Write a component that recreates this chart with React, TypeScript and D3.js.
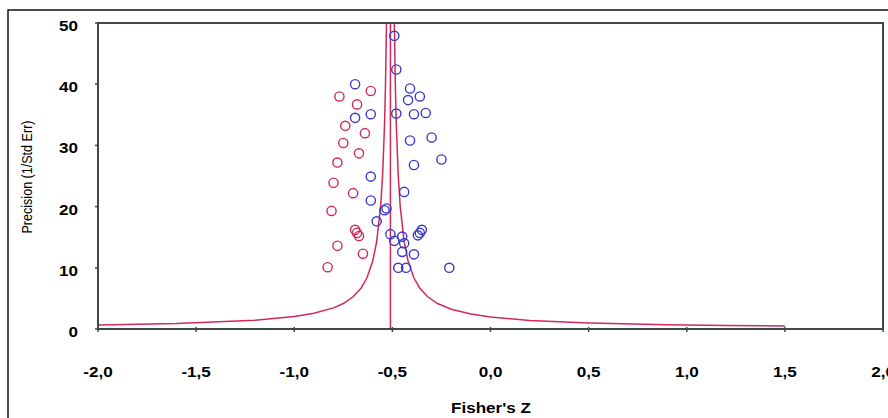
import React from 'react';
import * as d3 from 'd3';

// 观测研究 (蓝) — Fisher's Z, precision
const observedZ = [-0.49, -0.48, -0.69, -0.41, -0.42, -0.36, -0.61, -0.69, -0.48, -0.39, -0.33, -0.41, -0.30, -0.39, -0.25, -0.61, -0.44, -0.61, -0.54, -0.53, -0.58, -0.51, -0.49, -0.45, -0.44, -0.37, -0.36, -0.35, -0.45, -0.39, -0.47, -0.43, -0.21];
const observedP = [47.9, 42.4, 40.0, 39.3, 37.4, 38.0, 35.1, 34.5, 35.2, 35.1, 35.3, 30.8, 31.3, 26.8, 27.7, 24.9, 22.4, 21.0, 19.4, 19.7, 17.6, 15.5, 14.4, 15.1, 14.0, 15.3, 15.7, 16.2, 12.6, 12.2, 10.0, 10.0, 10.0];

// 填补研究 (红)
const imputedZ = [-0.77, -0.61, -0.68, -0.74, -0.64, -0.75, -0.67, -0.78, -0.80, -0.70, -0.81, -0.69, -0.68, -0.67, -0.78, -0.65, -0.83];
const imputedP = [38.0, 38.9, 36.7, 33.2, 32.0, 30.4, 28.7, 27.2, 23.9, 22.2, 19.3, 16.2, 15.7, 15.2, 13.6, 12.3, 10.1];

const xTicks = [-2.0, -1.5, -1.0, -0.5, 0.0, 0.5, 1.0, 1.5, 2.0];
const yTicks = [0, 10, 20, 30, 40, 50];

const pooledZ = -0.51;   // 合并效应
const funnelK = 1.0;     // 漏斗宽度
const funnelXs = [-2.0, -1.6, -1.2, -1.0, -0.9, -0.8, -0.75, -0.7, -0.66, -0.63, -0.6, -0.58, -0.56, -0.55, -0.54, -0.535, -0.53];
const funnelXsR = [-0.49, -0.485, -0.48, -0.47, -0.46, -0.44, -0.42, -0.39, -0.36, -0.32, -0.27, -0.2, -0.1, 0.0, 0.2, 0.5, 0.9, 1.2, 1.5];

const W = 888, H = 418;
const left = 98, right = 883, top = 23, bottom = 329;

export default function App() {
  const x = d3.scaleLinear().domain([-2, 2]).range([left, right]);
  const y = d3.scaleLinear().domain([0, 50]).range([bottom, top]);
  const fmt = (v: number) => v.toFixed(1).replace('.', ',');

  const line = d3.line<number>()
    .x(d => x(d))
    .y(d => y(Math.min(50, funnelK / Math.abs(d - pooledZ))));

  const red = '#d2285a';
  const blue = '#3a3ac8';
  const axis = '#3e4a4a';
  const font = '"Liberation Sans", Arial, sans-serif';

  // 横向拉伸的粗体文字
  const Bold = (p: { x: number; y: number; anchor: string; children: any }) => (
    <g transform={`translate(${p.x},${p.y}) scale(1.22,1)`}>
      <text textAnchor={p.anchor} fontFamily={font} fontWeight="bold" fontSize={14}>{p.children}</text>
    </g>
  );

  return (
    <svg width={W} height={H} style={{ position: 'absolute', left: 0, top: 0, background: '#fff' }}>
      <rect x={8} y={10} width={920} height={440} fill="none" stroke="#111" strokeWidth={1.5} />

      {/* 漏斗线 */}
      <path d={line(funnelXs) || ''} fill="none" stroke={red} strokeWidth={1.5} />
      <path d={line(funnelXsR) || ''} fill="none" stroke={red} strokeWidth={1.5} />
      <line x1={x(pooledZ)} x2={x(pooledZ)} y1={y(0)} y2={y(50)} stroke={red} strokeWidth={1.5} />

      {imputedZ.map((d, i) => (
        <circle key={'r' + i} cx={x(d)} cy={y(imputedP[i])} r={4.6} fill="none" stroke={red} strokeWidth={1.4} />
      ))}
      {observedZ.map((d, i) => (
        <circle key={'b' + i} cx={x(d)} cy={y(observedP[i])} r={4.6} fill="none" stroke={blue} strokeWidth={1.4} />
      ))}

      <rect x={left} y={top} width={right - left} height={bottom - top} fill="none" stroke={axis} strokeWidth={2} />

      {yTicks.map(t => (
        <g key={'y' + t}>
          <line x1={left - 3} x2={left} y1={y(t)} y2={y(t)} stroke={axis} strokeWidth={1.5} />
          <Bold x={78} y={y(t) + 8} anchor="end">{t}</Bold>
        </g>
      ))}
      {xTicks.map(t => (
        <g key={'x' + t}>
          <line x1={x(t)} x2={x(t)} y1={bottom - 2} y2={bottom + 3} stroke={axis} strokeWidth={1.5} />
          <Bold x={x(t)} y={377} anchor="middle">{fmt(t)}</Bold>
        </g>
      ))}

      <Bold x={491} y={413} anchor="middle">Fisher's Z</Bold>
      <text transform="translate(32,177) rotate(-90)" textAnchor="middle" fontFamily={font} fontSize={14}
        textLength={113} lengthAdjust="spacingAndGlyphs">Precision (1/Std Err)</text>
    </svg>
  );
}
